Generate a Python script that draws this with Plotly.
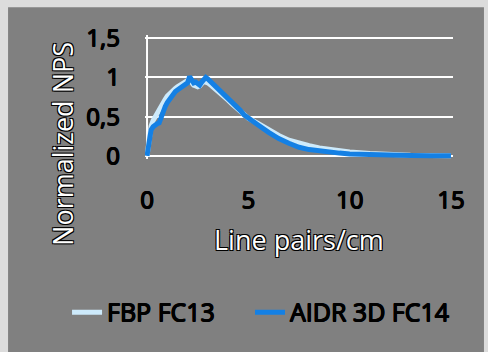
import plotly.graph_objects as go

x_fbp = [0, 0.1, 0.2, 0.3, 0.4, 0.5, 0.6, 0.7, 0.8, 0.9, 1.0, 1.1, 1.2, 1.3, 1.4, 1.5, 1.6, 1.7, 1.8, 1.9,
         2.0, 2.1, 2.2, 2.3, 2.4, 2.5, 2.6, 2.7, 2.8, 2.9, 3.0, 3.2, 3.4, 3.6, 3.8, 4.0, 4.2, 4.4, 4.6, 4.8,
         5.0, 5.5, 6.0, 6.5, 7.0, 7.5, 8.0, 8.5, 9.0, 9.5, 10, 11, 12, 13, 14, 15]
fbp = [0, 0.25, 0.38, 0.45, 0.50, 0.55, 0.58, 0.63, 0.68, 0.72, 0.76, 0.79, 0.82, 0.84, 0.86, 0.88, 0.90, 0.91, 0.93, 0.94,
       0.96, 0.97, 0.93, 0.90, 0.89, 0.88, 0.89, 0.93, 0.95, 0.94, 0.93, 0.89, 0.85, 0.80, 0.75, 0.71, 0.66, 0.61, 0.56, 0.52,
       0.48, 0.41, 0.33, 0.26, 0.20, 0.16, 0.13, 0.10, 0.08, 0.065, 0.05, 0.03, 0.015, 0.008, 0.004, 0.002]

x_aidr = x_fbp
aidr = [0, 0.22, 0.33, 0.37, 0.40, 0.41, 0.42, 0.50, 0.58, 0.63, 0.68, 0.72, 0.75, 0.80, 0.82, 0.84, 0.86, 0.89, 0.89, 0.91,
        0.93, 1.01, 0.95, 0.93, 0.94, 0.92, 0.90, 0.94, 0.97, 1.00, 0.98, 0.93, 0.89, 0.84, 0.80, 0.75, 0.70, 0.64, 0.58, 0.52,
        0.48, 0.39, 0.30, 0.22, 0.16, 0.11, 0.08, 0.06, 0.045, 0.035, 0.025, 0.015, 0.01, 0.005, 0.003, 0.002]

y_tickvals = [0, 0.5, 1, 1.5]
y_ticktext = ["0", "0,5", "1", "1,5"]
x_tickvals = [0, 5, 10, 15]
x_ticktext = ["0", "5", "10", "15"]

FONT = "Open Sans"
outline = "1px 1px 0 #000, -1px -1px 0 #000, 1px -1px 0 #000, -1px 1px 0 #000"
thin = "0.5px 0.5px 0 #000, -0.5px -0.5px 0 #000, 0.5px -0.5px 0 #000, -0.5px 0.5px 0 #000"

W, H = 488, 352
# pixel anchors of the plot: x=0 at 147, x=15 at 451; y=0 at 156, y=1.5 at 38
X0P, X15P, Y0P, Y15P = 147, 451, 156, 38
XR = [-0.1, 15.1]
YR = [-0.04, 1.54]
sx = (X15P - X0P) / 15
sy = (Y0P - Y15P) / 1.5
L = X0P + XR[0] * sx
R = W - (X0P + XR[1] * sx)
T = Y15P - (YR[1] - 1.5) * sy
B = H - (Y0P - YR[0] * sy)
PW, PH = W - L - R, H - T - B

def px(xp):
    return (xp - L) / PW

def py(yp):
    return (H - B - yp) / PH

fig = go.Figure()
fig.add_trace(go.Scatter(x=x_fbp, y=fbp, mode="lines", name="FBP FC13", legend="legend",
                         line=dict(color="#cdeafb", width=5)))
fig.add_trace(go.Scatter(x=x_aidr, y=aidr, mode="lines", name="AIDR 3D FC14", legend="legend2",
                         line=dict(color="#1480e4", width=5)))

leg_common = dict(orientation="h", yanchor="middle", xanchor="left",
                  font=dict(family=FONT, size=25, color="#000", shadow=thin),
                  bgcolor="rgba(0,0,0,0)", itemwidth=30)

fig.update_layout(
    width=W, height=H,
    margin=dict(l=L, r=R, t=T, b=B, autoexpand=False),
    paper_bgcolor="#dcdcdc",
    plot_bgcolor="#808080",
    showlegend=True,
    legend=dict(x=px(67), y=py(313), **leg_common),
    legend2=dict(x=px(250), y=py(313), **leg_common),
    shapes=[dict(type="rect", xref="paper", yref="paper", x0=px(8), x1=px(484), y0=py(H + 2), y1=py(7),
                 fillcolor="#808080", line=dict(width=0), layer="below")],
    annotations=[
        dict(text="Line pairs/cm", xref="paper", yref="paper", x=px(299), y=py(240), showarrow=False,
             xanchor="center", yanchor="middle",
             font=dict(family=FONT, size=27, color="white", shadow=outline)),
        dict(text="Normalized NPS", xref="paper", yref="paper", x=px(63), y=py(144), showarrow=False,
             textangle=-90, xanchor="center", yanchor="middle",
             font=dict(family=FONT, size=27, color="white", shadow=outline)),
    ],
    xaxis=dict(range=XR, tickvals=x_tickvals, ticktext=x_ticktext, showgrid=False, zeroline=False,
               showline=False, ticks="", ticklabelstandoff=24, automargin=False,
               tickfont=dict(family=FONT, size=24, color="#000", shadow=thin)),
    yaxis=dict(range=YR, tickvals=y_tickvals, ticktext=y_ticktext, showgrid=True,
               gridcolor="white", gridwidth=2, zeroline=False, showline=False,
               ticks="", ticklabelstandoff=24, automargin=False,
               tickfont=dict(family=FONT, size=24, color="#000", shadow=thin)),
)
fig.add_vline(x=0, line=dict(color="white", width=2), layer="below")

fig.write_html("out.html", config={"displayModeBar": False},
               post_script="document.body.style.margin='0';document.body.style.background='#dcdcdc';")
